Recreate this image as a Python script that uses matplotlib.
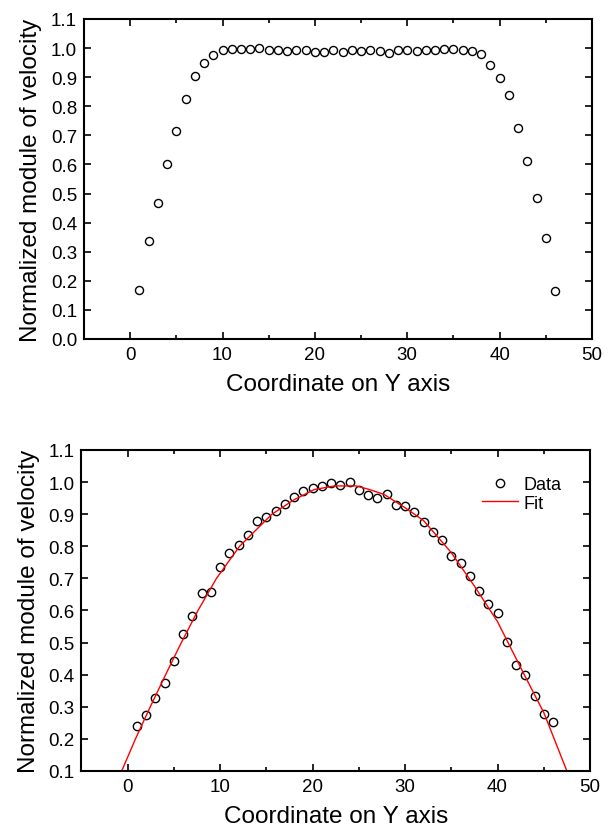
import matplotlib
matplotlib.use('Agg')
import matplotlib.pyplot as plt
from matplotlib.ticker import MultipleLocator

plt.rcParams['font.family'] = ['Liberation Sans', 'DejaVu Sans']

# top panel: plug-like profile
y_top = list(range(1, 47))
v_top = [0.167, 0.337, 0.468, 0.600, 0.714, 0.826, 0.904, 0.949, 0.975, 0.994,
         0.996, 0.997, 0.996, 0.999, 0.995, 0.993, 0.990, 0.993, 0.995, 0.988,
         0.987, 0.992, 0.988, 0.994, 0.991, 0.993, 0.991, 0.984, 0.993, 0.993,
         0.991, 0.994, 0.995, 0.997, 0.996, 0.993, 0.991, 0.981, 0.942, 0.897,
         0.840, 0.726, 0.612, 0.484, 0.346, 0.165]

# bottom panel: parabolic profile + fit
y_bot = list(range(1, 47))
v_bot = [0.241, 0.275, 0.327, 0.373, 0.442, 0.526, 0.582, 0.655, 0.659, 0.734,
         0.780, 0.805, 0.835, 0.878, 0.890, 0.909, 0.933, 0.953, 0.972, 0.980,
         0.989, 0.997, 0.990, 1.000, 0.974, 0.959, 0.949, 0.962, 0.928, 0.927,
         0.908, 0.877, 0.844, 0.818, 0.770, 0.749, 0.706, 0.661, 0.620, 0.592,
         0.502, 0.430, 0.399, 0.332, 0.278, 0.253]

fit_x = [-0.65, 0.84, 2.44, 4.1, 5.8, 7.6, 9.6, 12.1, 15.6, 18.0, 20.2, 22.4,
         24.7, 26.0, 27.7, 30.0, 32.0, 35.0, 37.5, 40.0, 42.8, 45.0, 47.5]
fit_v = [0.10, 0.20, 0.30, 0.40, 0.50, 0.60, 0.70, 0.80, 0.90, 0.945, 0.977, 0.988,
         0.988, 0.978, 0.962, 0.920, 0.880, 0.780, 0.676, 0.565, 0.405, 0.282, 0.10]

fig = plt.figure(figsize=(6.1, 8.29), dpi=100)
ax1 = fig.add_axes([0.1377, 0.5899, 0.8328, 0.386])
ax2 = fig.add_axes([0.1336, 0.0688, 0.8336, 0.3872])


def style(ax, ymin):
    ax.set_xlim(-5, 50)
    ax.set_ylim(ymin, 1.1)
    ax.xaxis.set_major_locator(MultipleLocator(10))
    ax.xaxis.set_minor_locator(MultipleLocator(5))
    ax.yaxis.set_major_locator(MultipleLocator(0.1))
    ax.yaxis.set_major_formatter(matplotlib.ticker.FormatStrFormatter('%.1f'))
    ax.tick_params(which='both', direction='in', top=True, right=True,
                   labelsize=13.5, width=1.2)
    ax.tick_params(which='major', length=5, pad=5)
    ax.tick_params(which='minor', length=3)
    for s in ax.spines.values():
        s.set_linewidth(1.5)
    ax.set_xlabel('Coordinate on Y axis', fontsize=17.5, labelpad=7)
    ax.set_ylabel('Normalized module of velocity', fontsize=17.5, labelpad=6)


ax1.plot(y_top, v_top, 'o', mfc='none', mec='black', ms=5.8, mew=1.0)
style(ax1, 0.0)

ax2.plot(y_bot, v_bot, 'o', mfc='none', mec='black', ms=6.0, mew=1.0, label='Data')
ax2.plot(fit_x, fit_v, '-', color='red', lw=1.0, label='Fit')
style(ax2, 0.1)
ax2.legend(loc='upper right', frameon=False, fontsize=13, handlelength=2.0,
           handletextpad=0.3, labelspacing=0.1, bbox_to_anchor=(0.975, 0.97))

fig.savefig('out.png', dpi=100)
